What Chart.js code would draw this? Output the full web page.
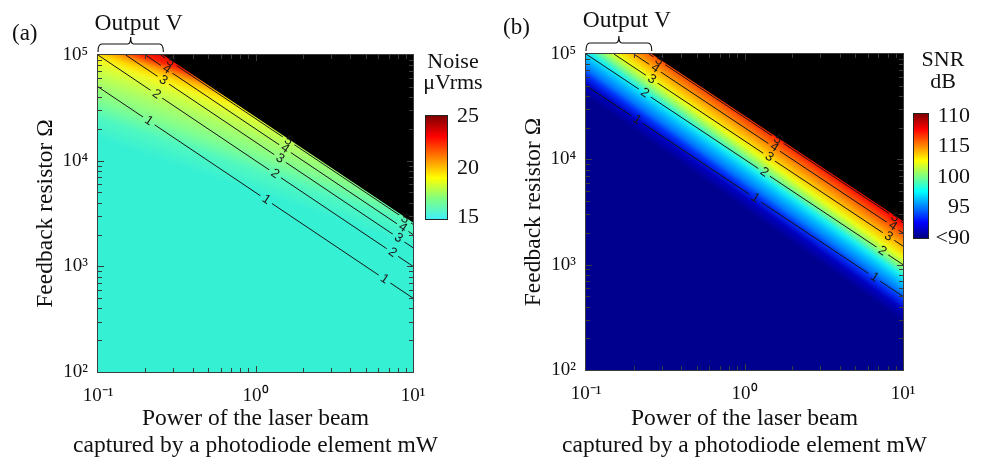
<!DOCTYPE html>
<html>
<head>
<meta charset="utf-8">
<script src="https://cdn.jsdelivr.net/npm/chart.js@4.4.1/dist/chart.umd.min.js"></script>
<style>
  html, body { margin: 0; padding: 0; background: #fff; }
  body { width: 986px; height: 459px; position: relative; overflow: hidden; }
  #panelA { position: absolute; left: 0; top: 0; }
  #panelB { position: absolute; left: 488px; top: 0; }
</style>
</head>
<body>
<canvas id="panelA" width="488" height="459"></canvas>
<canvas id="panelB" width="498" height="459"></canvas>
<script>
// axes: laser power (mW) and feedback resistor (ohm)
const powerMin = 0.1, powerMax = 10;
const resistorMin = 100, resistorMax = 100000;
const powerTicks = [0.1, 1, 10];
const powerTickLabels = ['10⁻¹', '10⁰', '10¹'];
const resistorTicks = [100, 1000, 10000, 100000];
const resistorTickLabels = ['10²', '10³', '10⁴', '10⁵'];
const xTitle = ['Power of the laser beam', 'captured by a photodiode element mW'];
const yTitle = 'Feedback resistor Ω';

// output voltage contours (V), end points
const contourLevels = ['1', '2', '3', '4', '5'];
const contourStartP = [0.1, 0.1, 0.15, 0.2, 0.25];
const contourStartR = [50000, 100000, 100000, 100000, 100000];
const contourEndP = [10, 10, 10, 10, 10];
const contourEndR = [500, 1000, 1500, 2000, 2500];

// where the inline labels sit on each contour (three per line)
const labelP = [
  [0.21, 1.17, 6.6],
  [0.235, 1.33, 7.4],
  [0.26, 1.43, 8.1],
  [0.273, 1.54, 8.6],
  [0.29, 1.62, 8.9]
];
const labelR = [
  [23800, 4290, 760],
  [42500, 7520, 1350],
  [57700, 10500, 1850],
  [73300, 13000, 2330],
  [86200, 15400, 2800]
];

// saturated output (black area)
const saturatedP = [0.26, 10, 10];
const saturatedR = [100000, 100000, 2600];

// colour field anchors (start / end of the colour ramp)
const noiseGradFrom = [0.26, 100000];
const noiseGradTo = [0.162, 12650];
const snrGradFrom = [10, 2600];
const snrGradTo = [5.0, 600];

// colorbar tick labels
const noiseBarLabels = ['25', '20', '15'];
const snrBarLabels = ['110', '115', '100', '95', '<90'];

const serif = "'Liberation Serif', 'Times New Roman', serif";
Chart.defaults.font.family = serif;
Chart.defaults.color = '#111';

const noiseFieldStops = [
  [0, '#e00800'], [0.07, '#ff2000'], [0.11, '#ff6000'], [0.15, '#ffa000'], [0.2, '#ffd800'],
  [0.26, '#f4f820'], [0.35, '#d0ff40'], [0.48, '#a8ff68'], [0.64, '#80ff90'], [0.8, '#50f8c0'], [1, '#36f0d4']
];
const snrFieldStops = [
  [0, '#e60000'], [0.05, '#ff1500'], [0.1, '#ff4000'], [0.2, '#ff8c00'], [0.29, '#ffcc00'],
  [0.37, '#e8ff18'], [0.45, '#90ff70'], [0.55, '#18f0f0'], [0.63, '#00b8ff'], [0.72, '#0078ff'],
  [0.79, '#0030f8'], [0.88, '#0000c0'], [1, '#00008e']
];
const noiseBarStops = [[0, '#40f0f8'], [0.2, '#80ff80'], [0.4, '#ffff00'], [0.6, '#ff8000'], [0.8, '#ff0000'], [1, '#800000']];
const snrBarStops = [[0, '#000080'], [0.125, '#0000ff'], [0.375, '#00ffff'], [0.625, '#ffff00'], [0.875, '#ff0000'], [1, '#800000']];

function tickText(value, ticks, labels) {
  const i = ticks.findIndex(t => Math.abs(t - value) / t < 1e-6);
  return i < 0 ? '' : labels[i];
}
function isDecade(v) {
  const e = Math.log10(v);
  return Math.abs(e - Math.round(e)) < 1e-6;
}
function keepIntegerMantissa(scale) {
  scale.ticks = scale.ticks.filter(t => {
    const m = t.value / Math.pow(10, Math.floor(Math.log10(t.value) + 1e-9));
    return Math.abs(m - Math.round(m)) < 1e-6;
  });
}

function dataGradient(chart, from, to, stops, fallback) {
  if (!chart.chartArea) return fallback;
  const xs = chart.scales.x, ys = chart.scales.y;
  const g = chart.ctx.createLinearGradient(
    xs.getPixelForValue(from[0]), ys.getPixelForValue(from[1]),
    xs.getPixelForValue(to[0]), ys.getPixelForValue(to[1]));
  stops.forEach(([o, c]) => g.addColorStop(o, c));
  return g;
}

function contourAngle(chart, k) {
  const xs = chart.scales.x, ys = chart.scales.y;
  const x1 = xs.getPixelForValue(contourStartP[k]), y1 = ys.getPixelForValue(contourStartR[k]);
  const x2 = xs.getPixelForValue(contourEndP[k]), y2 = ys.getPixelForValue(contourEndR[k]);
  return Math.atan2(y2 - y1, x2 - x1);
}

function decor(p) {
  return {
    id: 'decor',
    beforeDatasetDraw(chart, args) {
      const k = chart.data.datasets[args.index].contourIndex;
      if (k === undefined) return;
      const ctx = chart.ctx;
      const ang = contourAngle(chart, k);
      const c = Math.cos(ang), s = Math.sin(ang);
      const hw = 7, hh = 5;
      ctx.save();
      ctx.beginPath();
      ctx.rect(0, 0, chart.width, chart.height);
      labelP[k].forEach((lp, j) => {
        const cx = chart.scales.x.getPixelForValue(lp);
        const cy = chart.scales.y.getPixelForValue(labelR[k][j]);
        [[-hw, -hh], [hw, -hh], [hw, hh], [-hw, hh]].forEach(([u, v], i) => {
          const px = cx + u * c - v * s, py = cy + u * s + v * c;
          if (i) ctx.lineTo(px, py); else ctx.moveTo(px, py);
        });
        ctx.closePath();
      });
      ctx.clip('evenodd');
    },
    afterDatasetDraw(chart, args) {
      if (chart.data.datasets[args.index].contourIndex !== undefined) chart.ctx.restore();
    },
    afterDatasetsDraw(chart) {
      const ctx = chart.ctx, xs = chart.scales.x, ys = chart.scales.y;
      const {left, right, top, bottom} = chart.chartArea;
      // contour labels
      ctx.save();
      ctx.font = "13px 'Liberation Sans', Arial, sans-serif";
      ctx.fillStyle = '#1a1a1a';
      ctx.textAlign = 'center';
      ctx.textBaseline = 'middle';
      contourLevels.forEach((lv, k) => {
        const ang = contourAngle(chart, k);
        labelP[k].forEach((lp, j) => {
          ctx.save();
          ctx.translate(xs.getPixelForValue(lp), ys.getPixelForValue(labelR[k][j]));
          ctx.rotate(ang);
          ctx.fillText(lv, 0, 0);
          ctx.restore();
        });
      });
      ctx.restore();
      // box and inward ticks
      ctx.save();
      ctx.strokeStyle = '#3c3c3c';
      ctx.lineWidth = 1;
      ctx.strokeRect(left - 0.5, top - 0.5, right - left + 1, bottom - top + 1);
      ctx.beginPath();
      xs.ticks.forEach(t => {
        const x = Math.round(xs.getPixelForValue(t.value)) + 0.5;
        if (x < left + 2 || x > right - 2) return;
        const len = isDecade(t.value) ? 6 : 4;
        ctx.moveTo(x, bottom); ctx.lineTo(x, bottom - len);
        ctx.moveTo(x, top); ctx.lineTo(x, top + len);
      });
      ys.ticks.forEach(t => {
        const y = Math.round(ys.getPixelForValue(t.value)) + 0.5;
        if (y < top + 2 || y > bottom - 2) return;
        const len = isDecade(t.value) ? 6 : 4;
        ctx.moveTo(left, y); ctx.lineTo(left + len, y);
        ctx.moveTo(right, y); ctx.lineTo(right - len, y);
      });
      ctx.stroke();
      ctx.restore();
    },
    afterDraw(chart) {
      const ctx = chart.ctx, xs = chart.scales.x;
      const {left, right, top} = chart.chartArea;
      ctx.save();
      // x axis title, drawn without the width squeeze
      ctx.fillStyle = '#111';
      ctx.textAlign = 'center';
      ctx.textBaseline = 'middle';
      ctx.font = '23.5px ' + serif;
      xTitle.forEach((t, i) => ctx.fillText(t, (left + right) / 2, 418.5 + 27 * i));
      // "Output V" brace over the unsaturated part of the top edge
      const x0 = xs.getPixelForValue(contourStartP[0]);
      const x1 = xs.getPixelForValue(saturatedP[0]);
      const xm = (x0 + x1) / 2;
      const yb = top - 3, yh = top - 11, yt = top - 18;
      ctx.strokeStyle = '#111';
      ctx.lineWidth = 1.2;
      ctx.beginPath();
      ctx.moveTo(x0, yb);
      ctx.quadraticCurveTo(x0, yh, x0 + 4, yh);
      ctx.lineTo(xm - 3, yh);
      ctx.quadraticCurveTo(xm, yh, xm, yt);
      ctx.quadraticCurveTo(xm, yh, xm + 3, yh);
      ctx.lineTo(x1 - 4, yh);
      ctx.quadraticCurveTo(x1, yh, x1, yb);
      ctx.stroke();
      ctx.fillText('Output V', xm + 8, p.outputY);
      ctx.textAlign = 'left';
      ctx.font = '23px ' + serif;
      ctx.fillText(p.letter, p.letterX, p.letterY);
      // colorbar
      const b = p.bar;
      const bx = right + b.dx;
      const g = ctx.createLinearGradient(0, b.bottom, 0, b.top);
      b.stops.forEach(([o, c]) => g.addColorStop(o, c));
      ctx.fillStyle = g;
      ctx.fillRect(bx, b.top, b.w, b.bottom - b.top);
      ctx.strokeStyle = '#222';
      ctx.lineWidth = 1;
      ctx.strokeRect(bx - 0.5, b.top - 0.5, b.w + 1, b.bottom - b.top + 1);
      ctx.fillStyle = '#111';
      ctx.font = '22px ' + serif;
      ctx.textAlign = b.align;
      b.labels.forEach((t, i) => ctx.fillText(t, right + b.labelX, b.labelY[i]));
      ctx.textAlign = 'center';
      b.title.forEach((t, i) => ctx.fillText(t, right + b.titleX, b.titleY[i]));
      ctx.restore();
    }
  };
}

function buildChart(canvasId, p) {
  const corner = (x, y) => ({x, y});
  // higher order is painted first (underneath)
  const datasets = [{
    label: 'field',
    order: 3,
    data: [corner(powerMin, resistorMin), corner(powerMin, resistorMax), corner(powerMax, resistorMax), corner(powerMax, resistorMin)],
    showLine: true, fill: 'shape', pointRadius: 0, borderWidth: 0, borderColor: 'rgba(0,0,0,0)',
    backgroundColor: ctx => dataGradient(ctx.chart, p.gradFrom, p.gradTo, p.stops, p.stops[p.stops.length - 1][1])
  }, {
    label: 'saturated',
    order: 2,
    data: saturatedP.map((x, i) => ({x, y: saturatedR[i]})),
    showLine: true, fill: 'shape', pointRadius: 0, borderWidth: 0, borderColor: 'rgba(0,0,0,0)',
    backgroundColor: '#000'
  }];
  contourLevels.forEach((lv, k) => datasets.push({
    label: lv + ' V',
    order: 1,
    contourIndex: k,
    data: [{x: contourStartP[k], y: contourStartR[k]}, {x: contourEndP[k], y: contourEndR[k]}],
    showLine: true, fill: false, pointRadius: 0, borderWidth: 1, borderColor: '#151515'
  }));

  return new Chart(document.getElementById(canvasId), {
    type: 'scatter',
    data: {datasets},
    options: {
      responsive: false,
      animation: false,
      events: [],
      layout: {padding: {left: 0, top: p.top, right: p.right, bottom: 0}},
      plugins: {legend: {display: false}, tooltip: {enabled: false}},
      scales: {
        x: {
          type: 'logarithmic', min: powerMin, max: powerMax,
          afterBuildTicks: keepIntegerMantissa,
          afterFit: s => { s.height = p.xAxisHeight; },
          grid: {display: false, drawTicks: false},
          border: {display: false},
          ticks: {
            autoSkip: false, maxRotation: 0, padding: 13, color: '#111',
            font: {size: 19},
            callback: v => tickText(v, powerTicks, powerTickLabels)
          }
        },
        y: {
          type: 'logarithmic', min: resistorMin, max: resistorMax,
          afterBuildTicks: keepIntegerMantissa,
          afterFit: s => { s.width = 98; },
          grid: {display: false, drawTicks: false},
          border: {display: false},
          ticks: {
            autoSkip: false, padding: 10, color: '#111',
            font: {size: 19},
            callback: v => tickText(v, resistorTicks, resistorTickLabels)
          },
          title: {
            display: true, color: '#111',
            text: yTitle,
            font: {size: 23.5, lineHeight: 1.15},
            padding: {top: 32, bottom: 0}
          }
        }
      }
    },
    plugins: [decor(p)]
  });
}

buildChart('panelA', {
  letter: '(a)', letterX: 12, letterY: 34, outputY: 24,
  top: 55, right: 75, xAxisHeight: 87,
  gradFrom: noiseGradFrom, gradTo: noiseGradTo, stops: noiseFieldStops,
  bar: {
    dx: 13, w: 21, top: 116, bottom: 219, stops: noiseBarStops,
    labels: noiseBarLabels, labelY: [116, 168, 217], labelX: 44, align: 'left',
    title: ['Noise', 'μVrms'], titleX: 40, titleY: [62, 83]
  }
});

buildChart('panelB', {
  letter: '(b)', letterX: 15, letterY: 27.5, outputY: 21,
  top: 54, right: 83, xAxisHeight: 89,
  gradFrom: snrGradFrom, gradTo: snrGradTo, stops: snrFieldStops,
  bar: {
    dx: 11, w: 14, top: 114, bottom: 238, stops: snrBarStops,
    labels: snrBarLabels, labelY: [116, 146, 177, 207, 238], labelX: 67, align: 'right',
    title: ['SNR', 'dB'], titleX: 40, titleY: [60, 82]
  }
});
</script>
</body>
</html>
